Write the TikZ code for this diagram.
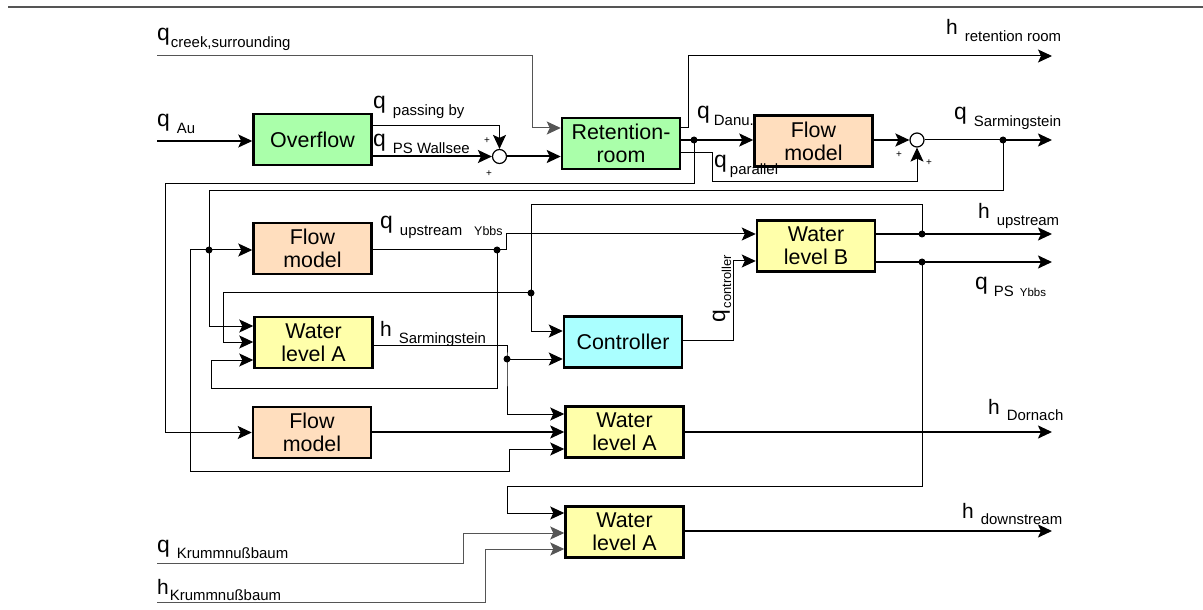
\documentclass[tikz,border=0pt]{standalone}
\usepackage{fontspec}
\setmainfont{Liberation Sans}
\usetikzlibrary{arrows.meta}
\definecolor{cgreen}{HTML}{AAFFAA}
\definecolor{cpeach}{HTML}{FFDEBE}
\definecolor{cyellow}{HTML}{FFFFAA}
\definecolor{ccyan}{HTML}{AAFFFF}
\definecolor{cline}{HTML}{555555}
\newcommand{\sigq}[2][7bp]{{\fontsize{23}{23}\selectfont q}\hspace{#1}\raisebox{-6.5bp}{\fontsize{15}{15}\selectfont #2}}
\newcommand{\sigh}[2][7bp]{{\fontsize{21}{21}\selectfont h}\hspace{#1}\raisebox{-6.5bp}{\fontsize{15}{15}\selectfont #2}}
\tikzset{
  blk/.style={draw=black, line width=2.5bp, minimum width=118bp, minimum height=51bp,
    inner sep=0pt, align=center, font=\fontsize{21.5}{23}\selectfont},
  gbox/.style={blk, fill=cgreen},
  pbox/.style={blk, fill=cpeach},
  ybox/.style={blk, fill=cyellow},
  cbox/.style={blk, fill=ccyan},
  sumc/.style={circle, draw=black, fill=white, line width=1.2bp, minimum size=14bp, inner sep=0pt},
  wire/.style={line width=1bp, draw=black},
  inwire/.style={line width=1bp, draw=cline},
  bus/.style={line width=2bp, draw=black},
  arr/.style={-{Stealth[length=14bp,width=13bp,inset=3bp]}},
  jdot/.style={circle, fill=black, inner sep=0pt, minimum size=7bp},
  lbl/.style={anchor=base west, inner sep=0pt},
  plus/.style={inner sep=0pt, font=\fontsize{10}{10}\selectfont}
}
\begin{document}
\begin{tikzpicture}[x=1bp, y=-1bp]
\useasboundingbox (0,0) rectangle (1203,610);
\draw[line width=1.5bp, draw=cline] (8,7) -- (1203,7);

% blocks
\node[gbox] (ovf) at (312.5,139.5) {Overflow};
\node[gbox] (ret) at (621,143.5) {Retention-\\room};
\node[pbox] (fm1) at (813.5,141) {Flow\\model};
\node[sumc] (s1) at (499.5,156.5) {};
\node[sumc] (s2) at (917,140) {};
\node[pbox] (fm2) at (312.5,248.5) {Flow\\model};
\node[ybox] (wla1) at (313.5,342.5) {Water\\level A};
\node[ybox] (wlb) at (816,246) {Water\\level B};
\node[cbox] (ctl) at (623,342) {Controller};
\node[pbox] (fm3) at (312,432.5) {Flow\\model};
\node[ybox] (wla2) at (624.5,432) {Water\\level A};
\node[ybox] (wla3) at (624.5,532) {Water\\level A};

% junctions and free ends
\coordinate (jDanu) at (694,140);
\coordinate (jSarm) at (1003,140);
\coordinate (jA) at (209,250);
\coordinate (jB) at (497,250);
\coordinate (jC) at (922,234);
\coordinate (jD) at (922,262);
\coordinate (jE) at (531,293);
\coordinate (jF) at (507,359);
\coordinate (in1) at (157,56);
\coordinate (in2) at (157,141);
\coordinate (in3) at (157,563);
\coordinate (in4) at (157,602);
\coordinate (o1) at (1052,56);
\coordinate (o2) at (1052,140);
\coordinate (o3) at (1052,234);
\coordinate (o4) at (1052,262);
\coordinate (o5) at (1052,432);
\coordinate (o6) at (1052,531);

% wires
\draw[inwire,arr] (in1) -| (532,128) -- (ret.west |- 0,128);
\draw[wire,arr] (ret.east |- 0,128) -| (688,56) -- (o1);
\draw[line width=1.5bp,arr] (in2) -- (ovf.west |- in2);
\draw[wire,arr] (ovf.east |- 0,126) -| (s1.north);
\draw[bus,arr] (ovf.east |- s1) -- (s1.west);
\draw[bus,arr] (s1.east) -- (ret.west |- s1);
\draw[bus,arr] (ret.east |- jDanu) -- (fm1.west |- jDanu);
\draw[wire,arr] (ret.east |- 0,153) -| (712,182) -| (s2.south);
\draw[bus,arr] (fm1.east |- s2) -- (s2.west);
\draw[wire] (s2.east) -- (jSarm);
\draw[bus,arr] (jSarm) -- (o2);
\draw[wire,arr] (jDanu) |- (165,184) |- (fm3.west);
\draw[wire,arr] (jSarm) |- (209,191) |- (wla1.west |- 0,326);
\draw[wire,arr] (jA) -- (fm2.west |- jA);
\draw[wire,arr] (jA) -| (190,471) -| (509,449) -- (wla2.west |- 0,449);
\draw[wire,arr] (fm2.east |- jB) -| (506,234) -- (wlb.west |- 0,234);
\draw[wire,arr] (jB) |- (211,388) |- (wla1.west |- 0,360);
\draw[bus,arr] (wlb.east |- jC) -- (o3);
\draw[bus,arr] (wlb.east |- jD) -- (o4);
\draw[wire,arr] (jC) |- (531,205) |- (ctl.west |- 0,331);
\draw[wire,arr] (jE) -| (223,342) -- (wla1.west |- 0,342);
\draw[wire,arr] (wla1.east |- 0,345) -| (jF) |- (wla2.west |- 0,414);
\draw[wire,arr] (jF) -- (ctl.west |- jF);
\draw[wire,arr] (ctl.east |- 0,340) -| (733,261) -- (wlb.west |- 0,261);
\draw[bus,arr] (fm3.east |- wla2.west) -- (wla2.west);
\draw[bus,arr] (wla2.east) -- (o5);
\draw[wire,arr] (jD) |- (507,486) |- (wla3.west |- 0,513);
\draw[inwire,arr] (in3) -| (463,533) -- (wla3.west |- 0,533);
\draw[inwire,arr] (in4) -| (485,549) -- (wla3.west |- 0,549);
\draw[bus,arr] (wla3.east |- 0,531) -- (o6);

% junction dots
\foreach \j in {jDanu,jSarm,jA,jB,jC,jD,jE,jF} \node[jdot] at (\j) {};

% plus signs
\node[plus] (p1) at (487,141) {+};
\node[plus] (p2) at (489,174) {+};
\node[plus] (p3) at (899,155) {+};
\node[plus] (p4) at (929,163) {+};

% labels
\node[lbl] (tcreek) at (157,41) {\sigq[1bp]{creek,surrounding}};
\node[lbl] (tret) at (946,35) {\sigh{retention room}};
\node[lbl] (tau) at (157,127) {\sigq{Au}};
\node[lbl] (tpass) at (373,109) {\sigq{passing by}};
\node[lbl] (twall) at (373,147) {\sigq{PS Wallsee}};
\node[lbl] (tdanu) at (697,119) {\sigq[4bp]{Danu.}};
\node[lbl] (tpar) at (714,168) {\sigq[3bp]{parallel}};
\node[lbl] (tsarm) at (954,120) {\sigq{Sarmingstein}};
\node[lbl] (tupy) at (380,229) {\sigq{upstream\hspace{12bp}{\fontsize{12.5}{12.5}\selectfont Ybbs}}};
\node[lbl] (thsarm) at (380,337) {\sigh{Sarmingstein}};
\node[lbl] (thup) at (978,219) {\sigh{upstream}};
\node[lbl] (tpsy) at (975,290) {\sigq[6bp]{PS\hspace{6bp}{\fontsize{11.5}{11.5}\selectfont Ybbs}}};
\node[lbl,rotate=90] (tctl) at (725,323) {{\fontsize{23}{23}\selectfont q}\hspace{2bp}\raisebox{-6bp}{\fontsize{13}{13}\selectfont controller}};
\node[lbl] (tdorn) at (988,414) {\sigh{Dornach}};
\node[lbl] (tdown) at (962,518) {\sigh{downstream}};
\node[lbl] (tqk) at (157,552) {\sigq{Krummnußbaum}};
\node[lbl] (thk) at (157,594) {\sigh[1bp]{Krummnußbaum}};
\end{tikzpicture}
\end{document}
